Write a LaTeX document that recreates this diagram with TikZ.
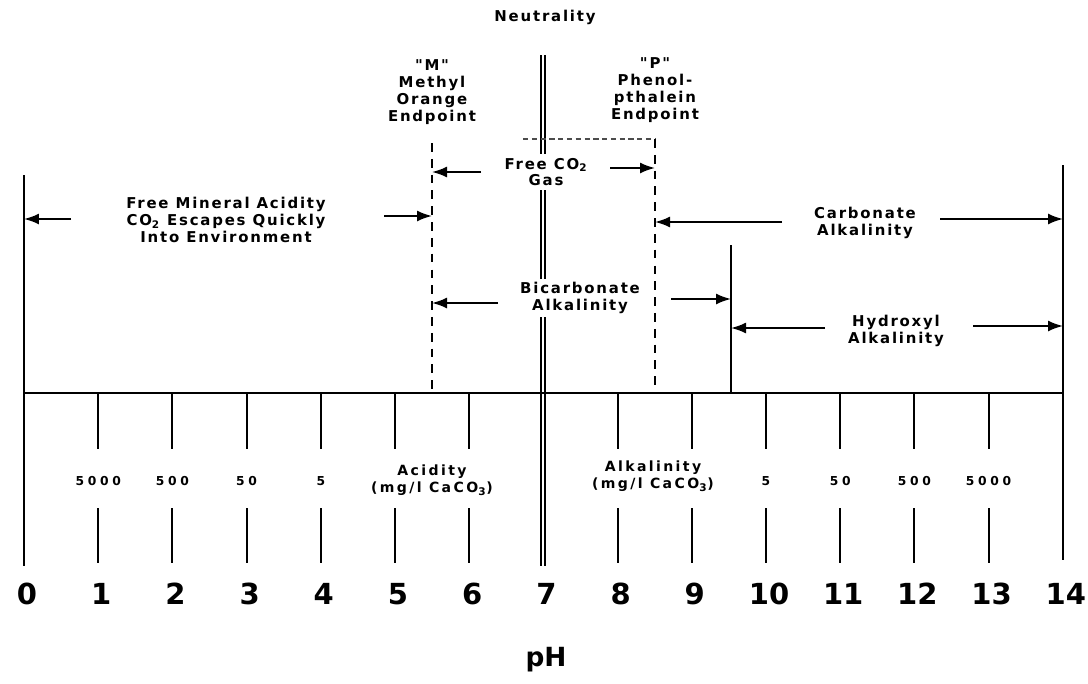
\documentclass[tikz,border=0pt]{standalone}
\usepackage{fontspec}
\usepackage{tikz}
\usetikzlibrary{arrows.meta,positioning}
\newfontfamily\lblfont[LetterSpace=12]{DejaVu Sans}
\newfontfamily\unitfont[LetterSpace=17]{DejaVu Sans}
\newfontfamily\tickfont[LetterSpace=30]{DejaVu Sans}
\newfontfamily\numfont{DejaVu Sans}

\begin{document}
\begin{tikzpicture}[
    x=0.02cm, y=-0.02cm,
    lbl/.style={align=center, font=\lblfont\bfseries\fontsize{8.5}{9.6}\selectfont, inner sep=1pt},
    boxlbl/.style={lbl, fill=white, inner sep=2pt},
    unitlbl/.style={align=center, font=\unitfont\bfseries\fontsize{8}{9.5}\selectfont, inner sep=1pt},
    ticklbl/.style={font=\tickfont\bfseries\fontsize{7}{8}\selectfont, inner sep=1pt},
    phlbl/.style={font=\numfont\bfseries\fontsize{16.5}{18}\selectfont, inner sep=0pt},
    bound/.style={line width=1.1pt},
    endpt/.style={bound, dash pattern=on 5pt off 4pt},
    gasline/.style={line width=0.6pt, black!70, dash pattern=on 3pt off 2pt},
    neutral/.style={double, line width=0.8pt, double distance=1.3pt},
    arrow/.style={-{Latex[length=3mm,width=2.2mm]}, line width=1.1pt}
]
    \useasboundingbox (0,0) rectangle (1088,683);

    % Boundary lines
    \coordinate (zero top) at (24,175);
    \coordinate (zero bot) at (24,566);
    \coordinate (max top) at (1063,165);
    \coordinate (max bot) at (1063,560);
    \coordinate (m top) at (432,143);
    \coordinate (p top) at (655,139);
    \coordinate (gas left) at (523,139);
    \coordinate (oh top) at (731,245);
    \coordinate (seven top) at (543,55);
    \coordinate (seven bot) at (543,566);

    \draw[neutral] (seven top) -- (seven bot);
    \draw[bound] (zero top) -- (zero bot);
    \draw[bound] (max top) -- (max bot);
    \draw[bound] (24,393) coordinate (axis left) -- (1063,393) coordinate (axis right);
    \draw[endpt] (m top) -- (m top |- axis left);
    \draw[gasline] (gas left) -- (p top);
    \draw[endpt] (p top) -- (p top |- axis left);
    \draw[bound] (oh top) -- (oh top |- axis left);

    % Scale ticks
    \foreach \p in {1,2,3,4,5,6,8,9,10,11,12,13} {
        \draw[bound] ({24+74.2*\p},393) -- ++(0,56);
        \draw[bound] ({24+74.2*\p},508) -- ++(0,55);
    }
    \foreach \p/\v in {1/5000,2/500,3/50,4/5,10/5,11/50,12/500,13/5000}
        \node[ticklbl] (conc\p) at ({24+74.2*\p},481) {\v};
    \foreach \p in {0,...,14}
        \node[phlbl] (ph\p) at ({27+74.2*\p},594) {\p};

    % Nodes
    \node[lbl] (neutrality) at (545,17) {Neutrality};
    \node[lbl] (mlbl) at (432,92) {"M"\\Methyl\\Orange\\Endpoint};
    \node[lbl] (plbl) at (655,90) {"P"\\Phenol-\\pthalein\\Endpoint};
    \node[boxlbl] (gas) at (546,172) {Free CO\textsubscript{2}\\Gas};
    \node[lbl] (mineral) at (226,220) {Free Mineral Acidity\\CO\textsubscript{2} Escapes Quickly\\Into Environment};
    \node[lbl] (carbonate) at (865,223) {Carbonate\\Alkalinity};
    \node[boxlbl] (bicarb) at (580,298) {Bicarbonate\\Alkalinity};
    \node[lbl] (hydroxyl) at (896,331) {Hydroxyl\\Alkalinity};
    \node[unitlbl] (acidity) at (432,480) {Acidity\\(mg/l CaCO\textsubscript{3})};
    \node[unitlbl] (alkalinity) at (653,476) {Alkalinity\\(mg/l CaCO\textsubscript{3})};
    \node[phlbl, font=\numfont\bfseries\fontsize{15}{17}\selectfont] (ph) at (546,660) {pH};

    % Arrow tails
    \coordinate (min l) at (71,219);
    \coordinate (min r) at (384,216);
    \coordinate (gas l) at (481,172);
    \coordinate (gas r) at (610,168);
    \coordinate (carb l) at (782,222);
    \coordinate (carb r) at (940,219);
    \coordinate (bic l) at (498,303);
    \coordinate (bic r) at (671,299);
    \coordinate (oh l) at (825,328);
    \coordinate (oh r) at (973,326);

    % Arrows
    \draw[arrow] (min l) -- (min l -| zero top);
    \draw[arrow] (min r) -- (min r -| m top);
    \draw[arrow] (gas l) -- (gas l -| m top);
    \draw[arrow] (gas r) -- (gas r -| p top);
    \draw[arrow] (carb l) -- (carb l -| p top);
    \draw[arrow] (carb r) -- (carb r -| max top);
    \draw[arrow] (bic l) -- (bic l -| m top);
    \draw[arrow] (bic r) -- (bic r -| oh top);
    \draw[arrow] (oh l) -- (oh l -| oh top);
    \draw[arrow] (oh r) -- (oh r -| max top);

\end{tikzpicture}
\end{document}
